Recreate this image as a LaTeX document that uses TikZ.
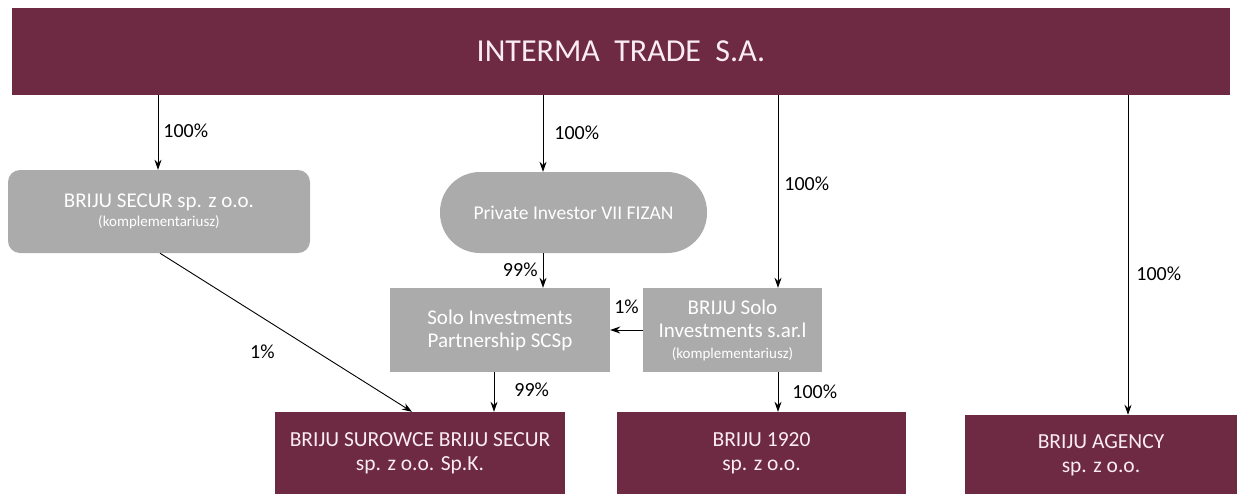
\documentclass[tikz,border=0pt]{standalone}
\usepackage{fontspec}
\setmainfont{Carlito}
\usetikzlibrary{arrows.meta,calc}
\definecolor{maroon}{RGB}{110,42,67}
\definecolor{gbox}{RGB}{171,171,171}
\definecolor{ptext}{RGB}{250,236,242}
\newcommand{\komp}{{\fontsize{15}{23}\selectfont(komplementariusz)}}
\tikzset{
  mbox/.style={draw=none,fill=maroon,text=ptext,inner sep=0pt,align=center},
  graybox/.style={draw=none,fill=gbox,text=white,inner sep=0pt,align=center},
  arr/.style={-{Stealth[length=10pt,width=7pt]},line width=0.9pt,black},
  pct/.style={font=\fontsize{20}{24}\selectfont,text=black,inner sep=1pt},
  gfont/.style={font=\fontsize{21}{23}\selectfont},
  mfont/.style={font=\fontsize{21.5}{24}\selectfont}
}
\begin{document}
\begin{tikzpicture}[x=1pt,y=-1pt]
\useasboundingbox (0,0) rectangle (1238,493);
% nodes
\node[mbox,minimum width=1218,minimum height=87,font=\fontsize{32}{36}\selectfont] (top) at (621,51.5)
  {INTERMA\hspace{0.45em}TRADE\hspace{0.45em}S.A.};
\node[graybox,gfont,rounded corners=12pt,minimum width=302,minimum height=83] (secur) at (159,211.5)
  {BRIJU SECUR sp. z o.o.\\[-4pt]\komp};
\node[graybox,font=\fontsize{19.5}{23}\selectfont,rounded corners=40pt,minimum width=267,minimum height=81] (pi) at (573.5,212.5)
  {Private Investor VII FIZAN};
\node[graybox,gfont,minimum width=220,minimum height=84] (solo) at (500,330)
  {Solo Investments\\Partnership SCSp};
\node[graybox,gfont,minimum width=179,minimum height=84] (bsolo) at (732.5,330)
  {BRIJU Solo\\Investments s.ar.l\\[-2pt]\komp};
\node[mbox,mfont,minimum width=290,minimum height=83] (sur) at (420,453.5)
  {BRIJU SUROWCE BRIJU SECUR\\sp. z o.o. Sp.K.};
\node[mbox,mfont,minimum width=289,minimum height=83] (b1920) at (761.5,453.5)
  {BRIJU 1920\\sp. z o.o.};
\node[mbox,mfont,minimum width=272,minimum height=80] (agency) at (1101,455)
  {BRIJU AGENCY\\sp. z o.o.};
% x positions of connectors
\coordinate (xa) at (158,0);
\coordinate (xb) at (543,0);
\coordinate (xc) at (778,0);
\coordinate (xd) at (1128,0);
\coordinate (xe) at (494,0);
\coordinate (xf) at (160,0);
\coordinate (xg) at (412,0);
% connectors
\draw[arr] (top.south -| xa) -- (secur.north -| xa) node[pct,pos=0.47,anchor=west,xshift=4pt] {100\%};
\draw[arr] (top.south -| xb) -- (pi.north -| xb) node[pct,pos=0.49,anchor=west,xshift=10pt] {100\%};
\draw[arr] (top.south -| xc) -- (bsolo.north -| xc) node[pct,pos=0.46,anchor=west,xshift=5pt] {100\%};
\draw[arr] (top.south -| xd) -- (agency.north -| xd) node[pct,pos=0.56,anchor=west,xshift=7pt] {100\%};
\draw[arr] (pi.south -| xb) -- (solo.north -| xb) node[pct,pos=0.49,anchor=east,xshift=-4pt] {99\%};
\draw[arr] (bsolo.west) -- (solo.east) node[pct,midway,anchor=south,yshift=15pt] {1\%};
\draw[arr] (solo.south -| xe) -- (sur.north -| xe) node[pct,pos=0.45,anchor=west,xshift=19pt] {99\%};
\draw[arr] (bsolo.south -| xc) -- (b1920.north -| xc) node[pct,pos=0.5,anchor=west,xshift=13pt] {100\%};
\draw[arr] (secur.south -| xf) -- (sur.north -| xg) node[pct,pos=0.45,xshift=-11pt,yshift=-27pt] {1\%};
\end{tikzpicture}
\end{document}
